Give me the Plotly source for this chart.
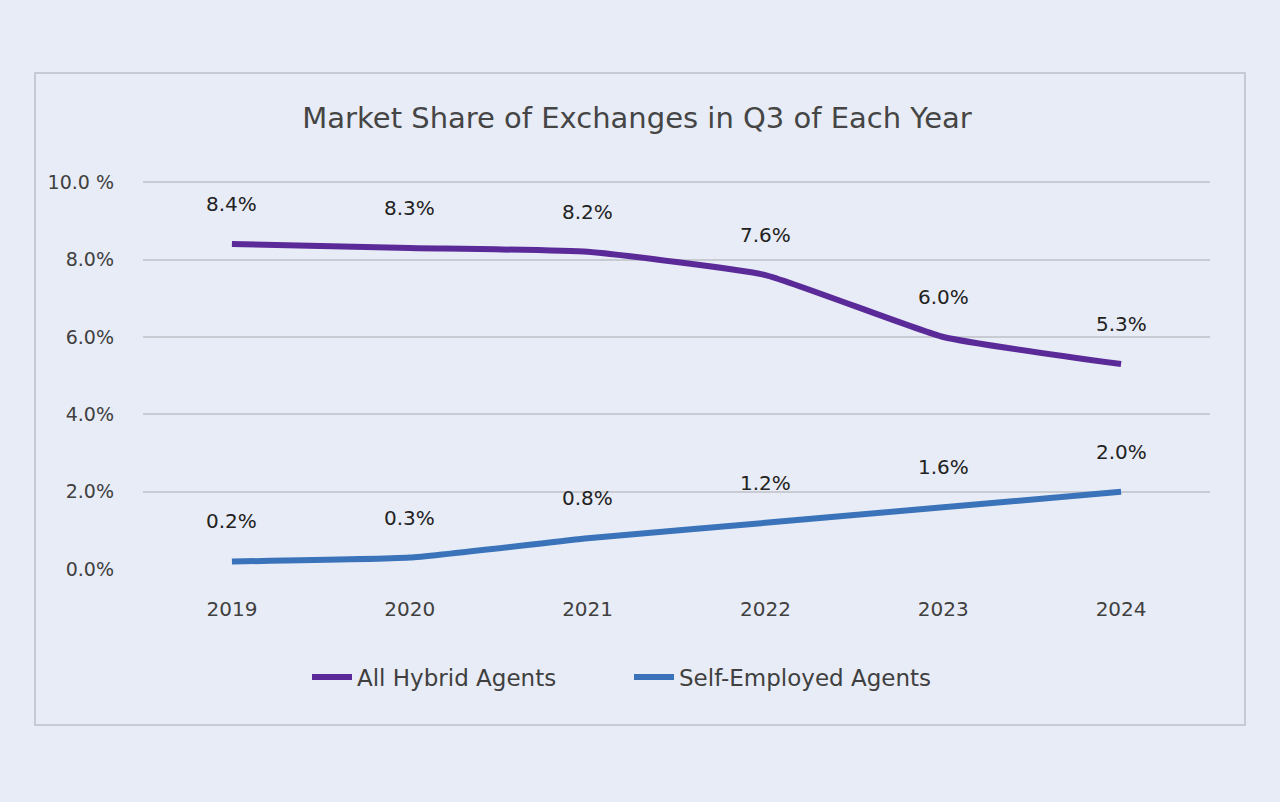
import plotly.graph_objects as go

years = ["2019", "2020", "2021", "2022", "2023", "2024"]
hybrid = [8.4, 8.3, 8.2, 7.6, 6.0, 5.3]
self_emp = [0.2, 0.3, 0.8, 1.2, 1.6, 2.0]
y_ticks = [0, 2, 4, 6, 8, 10]
y_tick_text = ["0.0%", "2.0%", "4.0%", "6.0%", "8.0%", "10.0 %"]

PURPLE = "#5B2A99"
BLUE = "#3A73B9"
FONT = "DejaVu Sans"

fig = go.Figure()
fig.add_trace(go.Scatter(x=years, y=hybrid, mode="lines", name="All Hybrid Agents",
                         line=dict(color=PURPLE, width=6, shape="spline", smoothing=0.4)))
fig.add_trace(go.Scatter(x=years, y=self_emp, mode="lines", name="Self-Employed Agents",
                         line=dict(color=BLUE, width=6, shape="spline", smoothing=0.4)))

for series in (hybrid, self_emp):
    for i, v in enumerate(series):
        fig.add_annotation(x=i, y=v, xref="x", yref="y", text=f"{v:.1f}%", showarrow=False,
                           yshift=40, font=dict(family=FONT, size=20, color="#222222"))

fig.add_shape(type="rect", xref="paper", yref="paper",
              x0=-108/1067, x1=1102/1067, y0=-155/389, y1=497/389,
              line=dict(color="#C6CAD3", width=2), fillcolor="rgba(0,0,0,0)", layer="below")

fig.update_layout(
    width=1280, height=802,
    paper_bgcolor="#E8ECF6", plot_bgcolor="#E8ECF6",
    margin=dict(l=143, r=70, t=181, b=232),
    title=dict(text="Market Share of Exchanges in Q3 of Each Year", x=637/1280, xanchor="center",
               y=1 - 118/802, yanchor="middle",
               font=dict(family=FONT, size=29, color="#454545")),
    xaxis=dict(type="category", categoryorder="array", categoryarray=years,
               range=[-0.5, len(years) - 0.5], autorange=False,
               showgrid=False, showline=False, zeroline=False, ticks="",
               tickfont=dict(family=FONT, size=20, color="#404040"), ticklabelstandoff=25),
    yaxis=dict(range=[-0.02, 10.03], autorange=False, tickvals=y_ticks, ticktext=y_tick_text,
               showgrid=True, gridcolor="#C9CBD3", gridwidth=2, zeroline=False,
               showline=False, ticks="", ticklabelstandoff=28,
               tickfont=dict(family=FONT, size=19, color="#404040")),
    legend=dict(orientation="h", x=(307 - 143) / 1067, xanchor="left",
                y=1 - (677-181)/389, yanchor="middle",
                font=dict(family=FONT, size=23, color="#404040"), bgcolor="rgba(0,0,0,0)",
                itemwidth=40, entrywidth=267),
    showlegend=True,
)

fig.write_html("out.html", config={"displayModeBar": False},
               post_script="document.body.style.margin='0';")
